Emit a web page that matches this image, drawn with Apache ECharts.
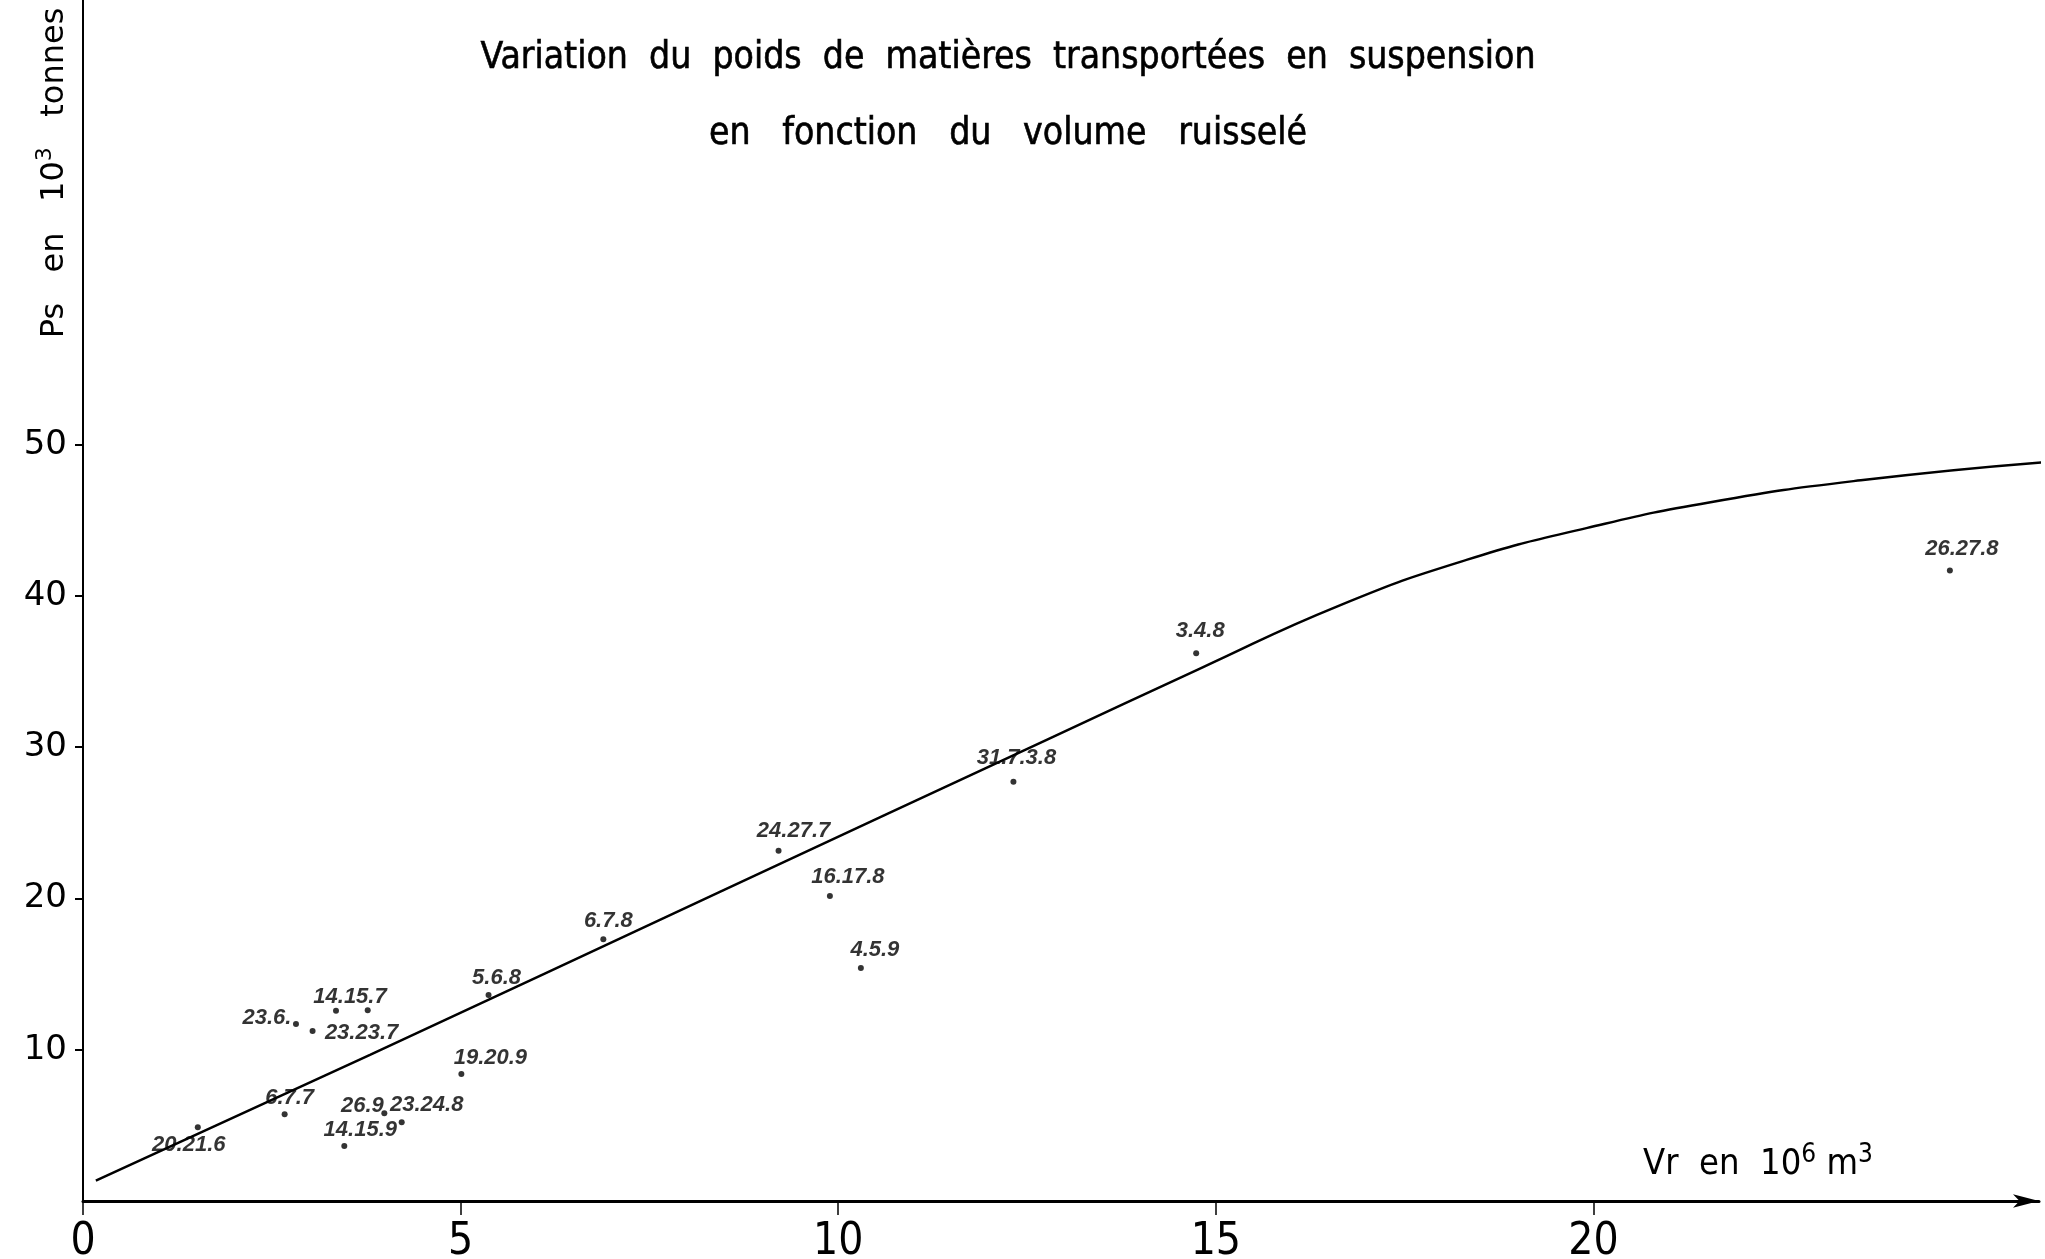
<!DOCTYPE html>
<html>
<head>
<meta charset="utf-8">
<title>Variation du poids de matières transportées en suspension</title>
<script src="https://cdn.jsdelivr.net/npm/echarts@6.0.0/dist/echarts.min.js"></script>
<style>
  html, body { margin: 0; padding: 0; background: #fff; }
  #chartId { width: 2045px; height: 1259px; }
</style>
</head>
<body>
<div id="chartId"></div>
<script>
// crues relevées (jour.mois)
const pointLabels = ['20.21.6', '6.7.7', '23.6.', '23.23.7', '14.15.7', '', '14.15.9', '26.9', '23.24.8',
  '19.20.9', '5.6.8', '6.7.8', '24.27.7', '16.17.8', '4.5.9', '31.7.3.8', '3.4.8', '26.27.8'];
// Vr en 10^6 m3
const pointVr = [1.52, 2.67, 2.82, 3.04, 3.35, 3.77, 3.46, 3.99, 4.22,
  5.01, 5.37, 6.89, 9.21, 9.89, 10.30, 12.32, 14.74, 24.72];
// Ps en 10^3 tonnes
const pointPs = [4.87, 5.73, 11.71, 11.24, 12.57, 12.61, 3.64, 5.80, 5.20,
  8.40, 13.62, 17.31, 23.15, 20.17, 15.41, 27.71, 36.22, 41.69];

// courbe d'ajustement
const curveVr = [0.17, 3.80, 8.44, 12.76, 14.79, 16.65, 18.33, 19.92, 21.55, 23.54, 26.0];
const curvePs = [1.35, 9.66, 20.45, 30.49, 35.20, 39.40, 42.40, 44.50, 46.20, 47.65, 48.86];

const xTicks = [0, 5, 10, 15, 20];
const yTicks = [10, 20, 30, 40, 50];

// placement des étiquettes autour des points (px)
const labelOffsets = [[-9, 18], [5, -16], [-29, -6], [49, 2], [14, -14], [0, 0], [16, -16], [-22, -7], [25, -17],
  [29, -16], [8, -17], [5, -18], [15, -20], [18, -19], [14, -18], [3, -24], [4, -22], [12, -21]];

const TITLE_FONT = '"DejaVu Sans Condensed", "Liberation Sans Narrow", sans-serif';
const NARROW_FONT = '"Liberation Sans Narrow", "DejaVu Sans Condensed", sans-serif';

let chart = null;

/**
 * initialise le graphique
 */
function initChart() {
  let chartDom = document.getElementById('chartId');
  chart = echarts.init(chartDom, null, { renderer: 'canvas' });
  chart.setOption(getOptions());
}

/**
 * points mesurés
 */
function buildPoints() {
  return pointVr.map((vr, i) => {
    return {
      value: [vr, pointPs[i]],
      name: pointLabels[i],
      label: { offset: labelOffsets[i] }
    };
  });
}

/**
 * options de base
 */
function getOptions() {
  return {
    backgroundColor: '#fff',
    animation: false,
    title: {
      text: 'Variation  du  poids  de  matières  transportées  en  suspension\nen   fonction   du   volume   ruisselé',
      left: 1003,
      top: 15,
      textAlign: 'center',
      textStyle: {
        fontFamily: TITLE_FONT,
        fontSize: 37,
        fontWeight: 'normal',
        color: '#000',
        lineHeight: 76,
        textBorderColor: '#000',
        textBorderWidth: 0.6
      }
    },
    grid: { left: 83, right: 6, top: 0, bottom: 58, containLabel: false, outerBoundsMode: 'none' },
    xAxis: {
      type: 'value',
      min: 0,
      max: 25.9,
      splitLine: { show: false },
      axisLine: {
        show: true,
        symbol: ['none', 'arrow'],
        symbolSize: [10, 26],
        lineStyle: { color: '#000', width: 3 }
      },
      axisTick: {
        show: true,
        customValues: xTicks,
        length: 14,
        lineStyle: { color: '#000', width: 1.5 }
      },
      axisLabel: {
        customValues: xTicks,
        margin: 20,
        fontFamily: NARROW_FONT,
        fontSize: 44,
        color: '#000',
        formatter: (v) => String(v)
      }
    },
    yAxis: {
      type: 'value',
      min: 0,
      max: 79.4,
      splitLine: { show: false },
      axisLine: { show: true, lineStyle: { color: '#000', width: 2 } },
      axisTick: {
        show: true,
        customValues: yTicks,
        length: 8,
        lineStyle: { color: '#000', width: 2 }
      },
      axisLabel: {
        customValues: yTicks,
        margin: 16,
        fontFamily: '"DejaVu Sans", sans-serif',
        fontSize: 34,
        color: '#000',
        formatter: (v) => String(v)
      }
    },
    graphic: [
      {
        type: 'text',
        x: 55,
        y: 173,
        rotation: Math.PI / 2,
        style: {
          text: '{a|Ps   en   10}{s|3}{a|   tonnes}',
          align: 'center',
          verticalAlign: 'middle',
          fill: '#000',
          rich: {
            a: { fontFamily: '"DejaVu Sans", sans-serif', fontSize: 32, lineHeight: 42, fill: '#000' },
            s: { fontFamily: '"DejaVu Sans", sans-serif', fontSize: 22, lineHeight: 42, verticalAlign: 'top', fill: '#000' }
          }
        }
      },
      {
        type: 'text',
        x: 1643,
        y: 1165,
        style: {
          text: '{a|Vr  en  10}{s|6}{a| m}{s|3}',
          align: 'left',
          verticalAlign: 'middle',
          fill: '#000',
          rich: {
            a: { fontFamily: TITLE_FONT, fontSize: 36, lineHeight: 46, fill: '#000' },
            s: { fontFamily: TITLE_FONT, fontSize: 26, lineHeight: 46, verticalAlign: 'top', fill: '#000' }
          }
        }
      }
    ],
    series: [
      {
        type: 'line',
        data: curveVr.map((vr, i) => [vr, curvePs[i]]),
        smooth: 0.5,
        showSymbol: false,
        lineStyle: { color: '#000', width: 2.5 },
        z: 2
      },
      {
        type: 'scatter',
        data: buildPoints(),
        symbol: 'circle',
        symbolSize: 6,
        itemStyle: { color: '#000' },
        label: {
          show: true,
          position: 'inside',
          formatter: (p) => p.name,
          fontFamily: '"Liberation Sans", sans-serif',
          fontStyle: 'italic',
          fontWeight: 'bold',
          fontSize: 22,
          color: '#000'
        },
        z: 3
      }
    ]
  };
}

initChart();
</script>
</body>
</html>
